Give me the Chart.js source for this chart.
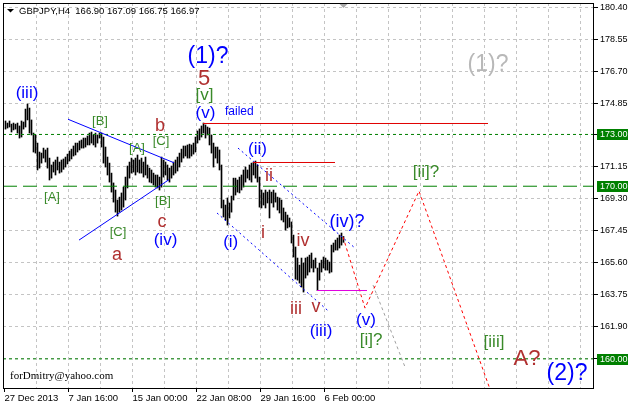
<!DOCTYPE html>
<html>
<head>
<meta charset="utf-8">
<script src="https://cdn.jsdelivr.net/npm/chart.js@4.4.1/dist/chart.umd.min.js"></script>
<style>
  html, body { margin: 0; padding: 0; background: #fff; }
  canvas { display: block; }
</style>
</head>
<body>
<canvas id="chart" width="631" height="406"></canvas>
<script>
/* GBPJPY H4 bars (one per 4h bar) */
const highs = [
  173.78,173.66,173.78,173.60,173.66,173.60,173.66,173.49,173.78,173.72,
  174.47,174.76,174.53,173.84,173.08,172.97,172.50,171.98,171.92,172.21,
  172.10,172.21,171.63,171.23,171.40,171.52,171.69,171.40,171.52,171.58,
  171.69,171.86,172.04,172.15,172.33,172.50,172.50,172.62,172.68,172.79,
  172.79,172.91,173.08,173.14,172.97,173.08,172.97,173.08,173.08,172.85,
  172.27,171.69,171.34,170.76,170.19,169.78,169.20,169.37,169.61,169.95,
  170.53,171.17,171.40,171.63,171.52,171.63,171.81,171.52,171.63,171.40,
  171.69,171.23,171.05,170.94,170.76,170.65,170.65,170.53,171.69,171.52,
  171.40,171.23,171.05,171.17,171.40,171.52,171.69,171.92,172.15,172.33,
  172.33,172.39,172.44,172.39,172.50,172.85,173.20,173.32,173.49,173.66,
  173.55,173.43,173.37,172.97,172.50,172.27,172.27,172.10,171.23,169.20,
  168.91,169.32,169.03,169.43,170.47,170.47,170.36,170.53,170.65,170.94,
  171.11,170.94,171.23,171.34,171.40,171.46,171.23,170.53,169.78,169.61,
  169.78,169.66,169.78,169.66,169.78,169.61,169.37,169.32,169.20,168.74,
  168.50,168.33,168.16,167.93,167.17,166.48,165.84,165.43,165.84,165.55,
  165.84,165.90,166.01,166.13,165.72,165.84,165.26,165.55,165.72,165.90,
  165.84,165.72,165.61,166.59,166.71,166.88,167.00,167.17,167.29,167.09
];
const lows = [
  173.31,173.37,173.43,173.14,173.26,173.31,173.08,172.79,172.85,173.31,
  173.43,173.84,173.08,172.97,171.98,171.92,170.94,171.05,171.34,171.63,
  171.40,171.05,170.36,170.47,170.82,170.65,170.94,170.76,170.82,170.98,
  171.11,171.29,171.46,171.58,171.75,171.81,171.98,172.10,172.21,172.21,
  172.27,172.39,172.39,172.50,172.39,172.27,172.50,172.79,172.27,171.34,
  171.11,170.65,170.24,169.66,169.08,168.50,168.27,168.50,168.62,168.79,
  169.20,169.90,170.47,170.76,170.82,170.65,170.82,170.76,170.76,170.53,
  170.65,170.47,170.24,170.19,170.07,169.95,169.90,169.78,169.95,170.53,
  170.65,170.36,170.24,170.47,170.65,170.76,170.88,171.11,171.40,171.63,
  171.75,171.63,171.63,171.75,171.86,171.98,172.50,172.68,172.85,173.08,
  172.79,172.97,172.39,171.92,171.11,171.63,171.34,170.94,168.74,168.22,
  168.04,167.75,168.16,168.50,169.20,169.49,169.66,169.61,169.78,169.95,
  170.24,170.47,170.36,170.24,170.65,170.47,170.24,168.79,168.74,168.91,
  168.74,169.03,168.16,169.03,168.79,169.08,168.62,168.45,168.04,167.93,
  167.46,167.58,167.64,166.71,165.90,164.62,164.56,164.39,164.16,163.87,
  164.68,164.85,165.03,165.26,165.03,165.26,163.95,164.56,165.03,165.26,
  165.14,165.14,164.97,165.03,166.19,166.30,166.30,166.42,166.59,166.75
];

/* axes */
const priceTicks = [180.40,178.55,176.70,174.85,173.00,171.15,169.30,167.45,165.60,163.75,161.90,160.05];
const timeLabels = ['27 Dec 2013','7 Jan 16:00','15 Jan 00:00','22 Jan 08:00','29 Jan 16:00','6 Feb 00:00'];
const timeTickIdx = [-1, 31, 63, 95, 127, 159];
const levels = [173.00, 170.00, 160.00];

/* drawn objects: [bar index, price] */
const failedLine = [[98.75,173.634],[241.25,173.634]];
const waveTwoLine = [[123.75,171.375],[164.75,171.375]];
const lowLine = [[155.75,163.96],[180.75,163.96]];
const triUpper = [[31.25,173.88],[84.25,171.36]];
const triLower = [[36.75,166.88],[81.75,170.38]];
const chanUpper = [[116.25,172.21],[174.75,166.42]];
const chanLower = [[105.75,168.45],[161.25,162.79]];
const forecast = [[168.75,167.06],[179.75,162.94],[206.75,169.72],[244.55,157.5]];
const altPath = [[183.75,164.28],[199.75,159.53]];

const BLUE = '#0000ff', BROWN = '#b03030', GREEN = '#3a8a2a', SILVER = '#b8b8b8';

/* wave labels: text, bar index, price, colour, px size */
const notes = [
  ['(iii)', 10.75, 175.40, BLUE, 17],
  ['(1)?', 101.25, 177.49, BLUE, 23],
  ['(v)', 100, 174.24, BLUE, 17],
  ['(iv)', 80, 166.88, BLUE, 17],
  ['(i)', 112.6, 166.74, BLUE, 17],
  ['(ii)', 126, 172.15, BLUE, 17],
  ['(iv)?', 170.75, 167.93, BLUE, 18],
  ['(iii)', 157.75, 161.61, BLUE, 17],
  ['(v)', 180.25, 162.25, BLUE, 17],
  ['(2)?', 280.75, 159.12, BLUE, 23],
  ['(1)?', 241.25, 177.02, SILVER, 23],
  ['5', 99.25, 176.21, BROWN, 22],
  ['b', 77.25, 173.49, BROWN, 18],
  ['c', 78.25, 167.93, BROWN, 18],
  ['a', 55.75, 166.01, BROWN, 18],
  ['ii', 131.75, 170.59, BROWN, 18],
  ['i', 128.75, 167.29, BROWN, 18],
  ['iv', 148.75, 166.82, BROWN, 18],
  ['iii', 145.25, 162.88, BROWN, 18],
  ['v', 155.25, 163.00, BROWN, 18],
  ['A?', 260.75, 159.99, BROWN, 22],
  ['[B]', 47.25, 173.78, GREEN, 13],
  ['[A]', 23.25, 169.37, GREEN, 13],
  ['[C]', 56.25, 167.35, GREEN, 13],
  ['[A]', 65.75, 172.21, GREEN, 13],
  ['[C]', 77.75, 172.62, GREEN, 13],
  ['[B]', 78.75, 169.14, GREEN, 13],
  ['[v]', 99.5, 175.28, GREEN, 17],
  ['[ii]?', 210.25, 170.82, GREEN, 17],
  ['[i]?', 182.75, 161.09, GREEN, 17],
  ['[iii]', 244.25, 160.97, GREEN, 17]
];

const pts = arr => arr.map(p => ({x: p[0], y: p[1]}));
const seg = (arr, color, dash, width) => ({
  type: 'line', data: pts(arr), borderColor: color, borderWidth: width || 1,
  borderDash: dash || [], pointRadius: 0, tension: 0, fill: false
});

const levelSets = levels.map((v, k) => seg([[-1.25, v],[294.25, v]], '#008000', k === 1 ? [14, 6] : [3, 3]));

const mtPlugin = {
  id: 'mt',
  beforeDatasetsDraw(chart) {
    const {ctx, chartArea: a, scales: {x, y}} = chart;
    ctx.save();
    ctx.strokeStyle = '#c4c4c4';
    ctx.lineWidth = 1;
    ctx.setLineDash([3, 3]);
    for (let k = 1; k <= 18; k++) {
      const px = Math.round(x.getPixelForValue(-1 + 16 * k)) + 0.5;
      ctx.beginPath(); ctx.moveTo(px, a.top); ctx.lineTo(px, a.bottom); ctx.stroke();
    }
    priceTicks.forEach(p => {
      const py = Math.round(y.getPixelForValue(p)) + 0.5;
      ctx.beginPath(); ctx.moveTo(a.left, py); ctx.lineTo(a.right, py); ctx.stroke();
    });
    ctx.restore();
  },
  afterDraw(chart) {
    const {ctx, chartArea: a, scales: {x, y}} = chart;
    ctx.save();
    ctx.setLineDash([]);
    ctx.strokeStyle = '#000';
    ctx.lineWidth = 1;
    ctx.strokeRect(a.left + 0.5, a.top + 0.5, a.right - a.left - 1, a.bottom - a.top);

    // price scale
    ctx.font = '9px "Liberation Sans"';
    ctx.textAlign = 'left';
    ctx.textBaseline = 'middle';
    ctx.fillStyle = '#000';
    priceTicks.forEach(p => {
      const py = Math.round(y.getPixelForValue(p)) + 0.5;
      ctx.beginPath(); ctx.moveTo(a.right, py); ctx.lineTo(a.right + 4, py); ctx.stroke();
      ctx.fillText(p.toFixed(2), a.right + 6, py);
    });
    levels.forEach(v => {
      const py = Math.round(y.getPixelForValue(v));
      ctx.fillStyle = '#008000';
      ctx.fillRect(a.right + 3, py - 5, 31, 11);
      ctx.fillStyle = '#fff';
      ctx.fillText(v.toFixed(2), a.right + 6, py + 0.5);
    });

    // time scale
    ctx.fillStyle = '#000';
    ctx.font = '9.5px "Liberation Sans"';
    timeTickIdx.forEach((t, k) => {
      const px = Math.round(x.getPixelForValue(t)) + 0.5;
      ctx.beginPath(); ctx.moveTo(px, a.bottom); ctx.lineTo(px, a.bottom + 4); ctx.stroke();
      ctx.fillText(timeLabels[k], px, a.bottom + 10);
    });

    // wave labels
    ctx.textAlign = 'center';
    notes.forEach(n => {
      ctx.font = n[4] + 'px "Liberation Sans"';
      ctx.fillStyle = n[3];
      ctx.fillText(n[0], x.getPixelForValue(n[1]), y.getPixelForValue(n[2]));
    });
    ctx.textAlign = 'left';
    ctx.font = '12px "Liberation Sans"';
    ctx.fillStyle = BLUE;
    ctx.fillText('failed', x.getPixelForValue(109.75), y.getPixelForValue(174.30));

    // header
    ctx.fillStyle = '#000';
    ctx.beginPath(); ctx.moveTo(7, 9); ctx.lineTo(14, 9); ctx.lineTo(10.5, 12.5); ctx.closePath(); ctx.fill();
    ctx.font = '9.5px "Liberation Sans"';
    ctx.fillText('GBPJPY,H4  166.90 167.09 166.75 166.97', 19, 11);
    ctx.fillStyle = '#a8a8a8';
    const sx = x.getPixelForValue(highs.length - 1);
    ctx.beginPath(); ctx.moveTo(sx - 4, a.top + 1); ctx.lineTo(sx + 4, a.top + 1); ctx.lineTo(sx, a.top + 5); ctx.closePath(); ctx.fill();

    ctx.fillStyle = '#000';
    ctx.font = '11px "Liberation Serif"';
    ctx.fillText('forDmitry@yahoo.com', 10, 376);
    ctx.restore();
  }
};

new Chart(document.getElementById('chart'), {
  type: 'bar',
  data: {
    datasets: [
      seg(failedLine, '#e00000'),
      seg(waveTwoLine, '#e00000'),
      seg(lowLine, '#e000e0'),
      seg(triUpper, BLUE),
      seg(triLower, BLUE),
      seg(chanUpper, BLUE, [2, 3]),
      seg(chanLower, BLUE, [2, 3]),
      seg(forecast, '#ff0000', [3, 3]),
      seg(altPath, '#a0a0a0', [3, 3]),
      ...levelSets,
      {
        type: 'bar',
        data: highs.map((h, i) => ({x: i, y: [lows[i], h]})),
        backgroundColor: '#000',
        borderWidth: 0,
        barThickness: 1
      }
    ]
  },
  options: {
    responsive: false,
    animation: false,
    layout: { padding: { left: 3, right: 37, top: 3, bottom: 18 } },
    plugins: { legend: { display: false }, tooltip: { enabled: false } },
    scales: {
      x: { type: 'linear', min: -1.25, max: 294.25, offset: false, display: false },
      y: { type: 'linear', min: 158.312, max: 180.614, display: false }
    }
  },
  plugins: [mtPlugin]
});
</script>
</body>
</html>
